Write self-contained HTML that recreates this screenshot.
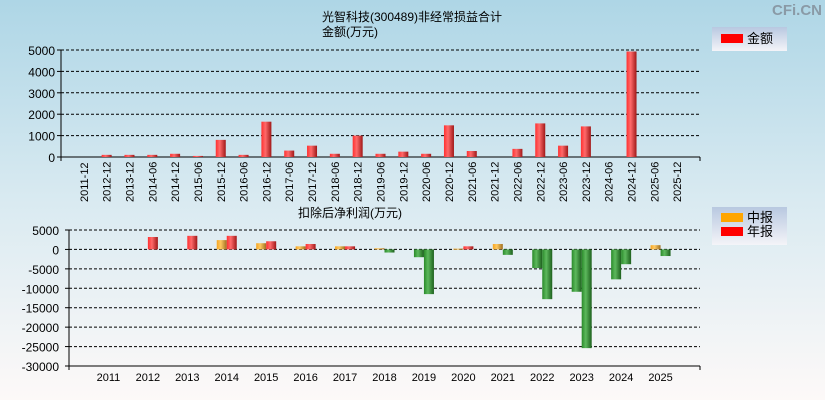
<!DOCTYPE html>
<html><head><meta charset="utf-8"><style>
html,body{margin:0;padding:0;}
body{width:825px;height:400px;overflow:hidden;background:linear-gradient(#aed6e6,#d9eaf1 50%,#fdf9f8);font-family:"Liberation Sans","Noto Sans CJK SC",sans-serif;}
svg{display:block;}
svg text{font-family:"Liberation Sans","Noto Sans CJK SC",sans-serif;}
</style></head><body>
<svg id="c" width="825" height="400">
<defs>
<linearGradient id="gr" x1="0" x2="1"><stop offset="0" stop-color="#ff3030"/><stop offset="0.4" stop-color="#ff6a6a"/><stop offset="1" stop-color="#a01818"/></linearGradient>
<linearGradient id="go" x1="0" x2="1"><stop offset="0" stop-color="#f5a623"/><stop offset="0.4" stop-color="#ffc860"/><stop offset="1" stop-color="#a07020"/></linearGradient>
<linearGradient id="gg" x1="0" x2="1"><stop offset="0" stop-color="#2a8a2a"/><stop offset="0.4" stop-color="#5cb85c"/><stop offset="1" stop-color="#1d601d"/></linearGradient>
<linearGradient id="lg" x1="0" y1="0" x2="0" y2="1"><stop offset="0" stop-color="#b8c8e0"/><stop offset="1" stop-color="#f4f4f8"/></linearGradient>
</defs>
<text x="822" y="15" font-size="15" text-anchor="end" fill="#8a9aa6" font-weight="bold">CFi.CN</text>
<text x="412" y="21" font-size="12" text-anchor="middle">光智科技(300489)非经常损益合计</text>
<text x="322" y="36" font-size="12">金额(万元)</text>
<text x="298" y="217" font-size="12">扣除后净利润(万元)</text>
<g><rect x="712" y="27" width="75" height="24" fill="url(#lg)"/><rect x="721" y="34" width="22" height="9" fill="#f00"/><text x="747" y="43" font-size="13">金额</text></g>
<g><rect x="712" y="207" width="75" height="38" fill="url(#lg)"/><rect x="721" y="213" width="22" height="9" fill="#ffa500"/><text x="747" y="222" font-size="13">中报</text><rect x="721" y="227" width="22" height="9" fill="#f00"/><text x="747" y="236" font-size="13">年报</text></g>
<g id="top"></g><g id="bot"></g>
</svg>
<script>
const topCats=["2011-12","2012-12","2013-12","2014-06","2014-12","2015-06","2015-12","2016-06","2016-12","2017-06","2017-12","2018-06","2018-12","2019-06","2019-12","2020-06","2020-12","2021-06","2021-12","2022-06","2022-12","2023-06","2023-12","2024-06","2024-12","2025-06","2025-12"];
const topVals=[0,100,100,100,150,50,800,100,1650,300,530,150,1000,150,250,150,1480,280,0,380,1570,530,1430,0,4930,0,0];
const topTicks=[0,1000,2000,3000,4000,5000];
const years=["2011","2012","2013","2014","2015","2016","2017","2018","2019","2020","2021","2022","2023","2024","2025"];
const midVals=[null,null,null,2400,1600,800,800,300,-2000,200,1400,-4800,-10900,-7700,1100];
const annVals=[null,3200,3500,3500,2100,1400,800,-800,-11500,800,-1400,-12800,-25400,-3800,-1700];
const botTicks=[5000,0,-5000,-10000,-15000,-20000,-25000,-30000];
const NS="http://www.w3.org/2000/svg";
function mk(p,t,a){const e=document.createElementNS(NS,t);for(const k in a)e.setAttribute(k,a[k]);p.appendChild(e);return e;}
const T=document.getElementById('top');
const tx0=61,tx1=700,tyB=157,tyT=50;
const ty=v=>tyB-(v-0)/5000*(tyB-tyT);
const tstep=(tx1-tx0)/(topCats.length+1);
const tcx=i=>tx0+(i+1)*tstep;
topTicks.forEach(v=>{
 if(v>0){const l=mk(T,'line',{x1:tx0,x2:tx1,y1:ty(v),y2:ty(v),stroke:'#000','stroke-dasharray':'3,2'});}
 const t=mk(T,'text',{x:tx0-6,y:ty(v)+5,'font-size':12,'text-anchor':'end'});t.textContent=v;
 
 mk(T,'line',{x1:tx0-4,x2:tx0,y1:ty(v),y2:ty(v),stroke:'#000'});
});
mk(T,'line',{x1:tx0,x2:tx0,y1:tyT,y2:tyB+4,stroke:'#000'});
mk(T,'line',{x1:tx0,x2:tx1,y1:tyB,y2:tyB,stroke:'#000'});
mk(T,'line',{x1:tx1,x2:tx1,y1:tyB,y2:tyB+4,stroke:'#000'});
topCats.forEach((c,i)=>{
 const x=tcx(i);
 const t=mk(T,'text',{transform:`translate(${x+4},${tyB+45}) rotate(-90)`,'font-size':11});t.textContent=c;
 
 const v=topVals[i];
 if(v>0){const r=mk(T,'rect',{x:x-5,y:ty(v),width:10,height:tyB-ty(v),fill:'url(#gr)'});
 }
});
const B=document.getElementById('bot');
const bx0=69,bx1=700,b5=230,bN=366;
const by=v=>b5+(5000-v)/35000*(bN-b5);
const bstep=(bx1-bx0)/(years.length+1);
const bcx=i=>bx0+(i+1)*bstep;
botTicks.forEach(v=>{
 if(v>-30000){const l=mk(B,'line',{x1:bx0,x2:bx1,y1:by(v),y2:by(v),stroke:'#000','stroke-dasharray':'3,2'});}
 const t=mk(B,'text',{x:bx0-10,y:by(v)+5,'font-size':12,'text-anchor':'end'});t.textContent=v;
 
 mk(B,'line',{x1:bx0-4,x2:bx0,y1:by(v),y2:by(v),stroke:'#000'});
});
mk(B,'line',{x1:bx0,x2:bx0,y1:b5,y2:bN+4,stroke:'#000'});
mk(B,'line',{x1:bx0,x2:bx1,y1:bN,y2:bN,stroke:'#000'});
mk(B,'line',{x1:bx1,x2:bx1,y1:bN,y2:bN+4,stroke:'#000'});
function bar(v,x,fillPos,name){
 if(v===null)return;
 const y0=by(0),y1=by(v);
 const r=mk(B,'rect',{x:x,y:Math.min(y0,y1),width:10,height:Math.max(1,Math.abs(y1-y0)),fill:v>=0?fillPos:'url(#gg)'});
 
}
years.forEach((y,i)=>{
 const x=bcx(i);
 const t=mk(B,'text',{x:x,y:bN+15,'font-size':11,'text-anchor':'middle'});t.textContent=y;
 
 bar(midVals[i],x-10,'url(#go)','bar-mid-'+y);
 bar(annVals[i],x,'url(#gr)','bar-annual-'+y);
});
</script>
</body></html>
